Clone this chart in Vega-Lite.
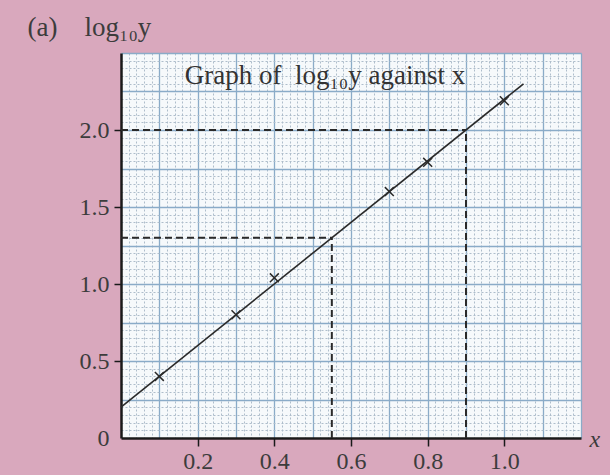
{
  "$schema": "https://vega.github.io/schema/vega-lite/v6.json",
  "width": 460,
  "height": 385,
  "autosize": {"type": "none"},
  "padding": {"left": 121, "top": 53, "right": 29, "bottom": 37},
  "background": "#d9a8bd",
  "config": {
    "view": {"fill": "#f6f9fb", "stroke": null},
    "font": "Liberation Serif"
  },
  "title": {
    "text": "Graph of\u00a0\u00a0log₁₀y against x",
    "frame": "group",
    "anchor": "middle",
    "orient": "top",
    "offset": 0,
    "dx": -26,
    "dy": 98,
    "baseline": "alphabetic",
    "font": "Liberation Serif",
    "fontSize": 27,
    "fontWeight": "normal",
    "color": "#333333"
  },
  "datasets": {
    "points": [
      {"x": 0.1, "y": 0.4},
      {"x": 0.3, "y": 0.8},
      {"x": 0.4, "y": 1.04},
      {"x": 0.7, "y": 1.6},
      {"x": 0.8, "y": 1.79},
      {"x": 1.0, "y": 2.19}
    ],
    "fit": [
      {"x": 0, "y": 0.2},
      {"x": 1.05, "y": 2.3}
    ],
    "guides": [
      {"x": 0, "y": 2.0, "x2": 0.9, "y2": 2.0},
      {"x": 0.9, "y": 0, "x2": 0.9, "y2": 2.0},
      {"x": 0, "y": 1.3, "x2": 0.55, "y2": 1.3},
      {"x": 0.55, "y": 0, "x2": 0.55, "y2": 1.3}
    ]
  },
  "resolve": {"axis": {"x": "independent", "y": "independent"}},
  "layer": [
    {
      "data": {"name": "guides"},
      "mark": {"type": "rule", "color": "#2a2a2a", "strokeWidth": 2, "strokeDash": [7, 4]},
      "encoding": {
        "x": {"field": "x", "type": "quantitative",
          "scale": {"domain": [0, 1.2], "nice": false, "zero": false},
          "axis": {"orient": "bottom", "values": [0,0.02,0.04,0.06,0.08,0.1,0.12,0.14,0.16,0.18,0.2,0.22,0.24,0.26,0.28,0.3,0.32,0.34,0.36,0.38,0.4,0.42,0.44,0.46,0.48,0.5,0.52,0.54,0.56,0.58,0.6,0.62,0.64,0.66,0.68,0.7,0.72,0.74,0.76,0.78,0.8,0.82,0.84,0.86,0.88,0.9,0.92,0.94,0.96,0.98,1,1.02,1.04,1.06,1.08,1.1,1.12,1.14,1.16,1.18,1.2],
            "grid": true, "gridColor": "#aebdcb", "gridWidth": 1, "gridDash": [2, 2],
            "labels": false, "ticks": false, "domain": false, "title": null}},
        "y": {"field": "y", "type": "quantitative",
          "scale": {"domain": [0, 2.5], "nice": false, "zero": false},
          "axis": {"orient": "left", "values": [0,0.05,0.1,0.15,0.2,0.25,0.3,0.35,0.4,0.45,0.5,0.55,0.6,0.65,0.7,0.75,0.8,0.85,0.9,0.95,1,1.05,1.1,1.15,1.2,1.25,1.3,1.35,1.4,1.45,1.5,1.55,1.6,1.65,1.7,1.75,1.8,1.85,1.9,1.95,2,2.05,2.1,2.15,2.2,2.25,2.3,2.35,2.4,2.45,2.5],
            "grid": true, "gridColor": "#aebdcb", "gridWidth": 1, "gridDash": [2, 2],
            "labels": false, "ticks": false, "domain": false, "title": null}},
        "x2": {"field": "x2"},
        "y2": {"field": "y2"}
      }
    },
    {
      "data": {"name": "fit"},
      "mark": {"type": "line", "color": "#2a2a2a", "strokeWidth": 1.6},
      "encoding": {
        "x": {"field": "x", "type": "quantitative",
          "axis": {"orient": "bottom", "values": [0.1,0.2,0.3,0.4,0.5,0.6,0.7,0.8,0.9,1.0,1.1,1.2],
            "grid": true, "gridColor": "#8aabc8", "gridWidth": 1.3, "gridOpacity": 1,
            "labels": false, "ticks": false, "domain": false, "title": null}},
        "y": {"field": "y", "type": "quantitative",
          "axis": {"orient": "left", "values": [0.25,0.5,0.75,1.0,1.25,1.5,1.75,2.0,2.25,2.5],
            "grid": true, "gridColor": "#8aabc8", "gridWidth": 1.3, "gridOpacity": 1,
            "labels": false, "ticks": false, "domain": false, "title": null}}
      }
    },
    {
      "data": {"name": "points"},
      "mark": {"type": "point", "shape": "M-1,-1L1,1M-1,1L1,-1", "filled": false, "color": "#2a2a2a", "strokeWidth": 1.5, "size": 80, "opacity": 1},
      "encoding": {
        "x": {"field": "x", "type": "quantitative",
          "axis": {"orient": "bottom", "values": [0.2, 0.4, 0.6, 0.8, 1.0], "format": ".1f",
            "grid": false, "domainColor": "#1a1a1a", "domainWidth": 2.5,
            "tickColor": "#1a1a1a", "tickWidth": 1.5, "tickSize": 8,
            "labelFont": "Liberation Serif", "labelFontSize": 24, "labelColor": "#3c3c3c", "labelPadding": 3,
            "title": "x", "titleFont": "Liberation Serif", "titleFontStyle": "italic", "titleFontWeight": "normal",
            "titleFontSize": 24, "titleColor": "#3c3c3c",
            "titleX": 468, "titleY": 1, "titleBaseline": "middle", "titleAlign": "left", "titleAngle": 0}},
        "y": {"field": "y", "type": "quantitative",
          "axis": {"orient": "left", "values": [0, 0.5, 1.0, 1.5, 2.0],
            "labelExpr": "datum.value == 0 ? '0' : format(datum.value, '.1f')",
            "grid": false, "domainColor": "#1a1a1a", "domainWidth": 2.5,
            "tickColor": "#1a1a1a", "tickWidth": 1.5, "tickSize": 7,
            "tickOpacity": {"condition": {"test": "datum.value == 0", "value": 0}, "value": 1},
            "labelFont": "Liberation Serif", "labelFontSize": 24, "labelColor": "#3c3c3c", "labelPadding": 5,
            "title": "(a)\u00a0\u00a0\u00a0\u00a0log₁₀y", "titleFont": "Liberation Serif", "titleFontWeight": "normal",
            "titleFontSize": 27, "titleColor": "#3c3c3c", "titleAngle": 0,
            "titleX": -94, "titleY": -18, "titleAlign": "left", "titleBaseline": "alphabetic"}}
      }
    },
    {
      "mark": {"type": "point", "shape": "M0,-1L-0.4,1L0,0.6L0.4,1Z", "filled": true, "color": "#1a1a1a", "size": 256, "opacity": 1},
      "encoding": {
        "x": {"datum": 0, "type": "quantitative", "axis": null},
        "y": {"datum": 2.45, "type": "quantitative", "axis": null}
      }
    },
    {
      "mark": {"type": "point", "shape": "M1,0L-1,-0.4L-0.6,0L-1,0.4Z", "filled": true, "color": "#1a1a1a", "size": 256, "opacity": 1},
      "encoding": {
        "x": {"datum": 1.18, "type": "quantitative", "axis": null},
        "y": {"datum": 0, "type": "quantitative", "axis": null}
      }
    }
  ]
}
